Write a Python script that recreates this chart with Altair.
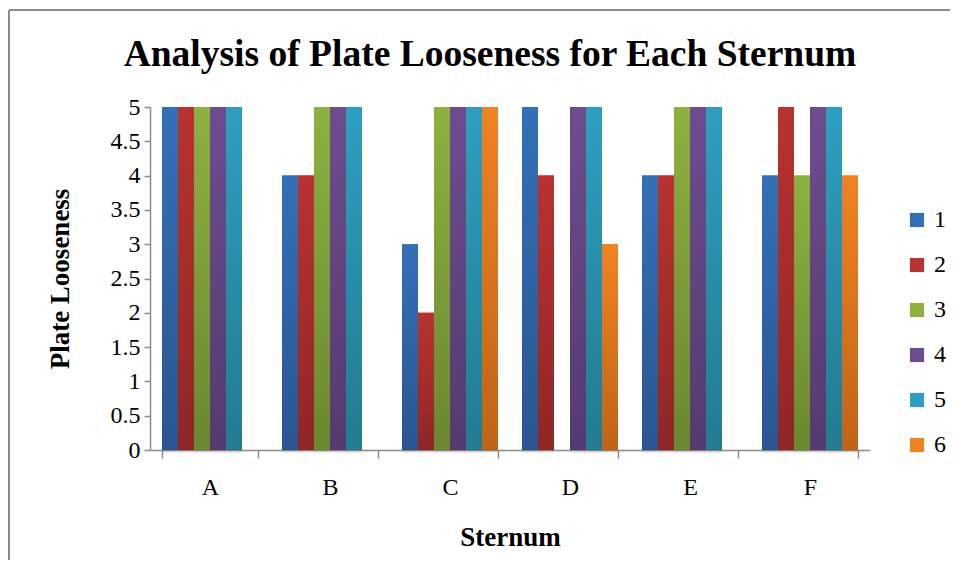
import altair as alt
import pandas as pd

categories = ["A", "B", "C", "D", "E", "F"]
series = ["1", "2", "3", "4", "5", "6"]
s1 = [5, 4, 3, 5, 4, 4]
s2 = [5, 4, 2, 4, 4, 5]
s3 = [5, 5, 5, None, 5, 4]
s4 = [5, 5, 5, 5, 5, 5]
s5 = [5, 5, 5, 5, 5, 5]
s6 = [None, None, 5, 3, None, 4]

top_colors = ["#3470b6", "#b83331", "#8db040", "#6e4d8f", "#2e9fc0", "#f08222"]
bottom_colors = ["#2a5590", "#8f2626", "#6b8730", "#553a6f", "#237b92", "#bf6418"]

rows = []
for s, vals in zip(series, [s1, s2, s3, s4, s5, s6]):
    for c, v in zip(categories, vals):
        if v is not None:
            rows.append({"Sternum": c, "Series": s, "Value": v})
df = pd.DataFrame(rows)

FONT = "Liberation Serif"

x_enc = alt.X("Sternum:N", sort=categories,
              scale=alt.Scale(paddingInner=0.2, paddingOuter=0.1),
              axis=alt.Axis(title="Sternum", labelAngle=0, tickBand="extent",
                            tickSize=8, labelPadding=17, titlePadding=25,
                            domainColor="#8c8c8c", tickColor="#8c8c8c",
                            domainWidth=1.5, tickWidth=1.5))
xo_enc = alt.XOffset("Series:N", scale=alt.Scale(domain=series))
y_enc = alt.Y("Value:Q", scale=alt.Scale(domain=[0, 5], nice=False),
              axis=alt.Axis(title="Plate Looseness", values=[0, 0.5, 1, 1.5, 2, 2.5, 3, 3.5, 4, 4.5, 5],
                            format="~g", grid=False, tickSize=6, labelPadding=4,
                            titlePadding=36, domainColor="#8c8c8c", tickColor="#8c8c8c",
                            domainWidth=1.5, tickWidth=1.5))

base = alt.Chart(df)

shadow = base.mark_bar(color="#000000", opacity=0.08, xOffset=3, yOffset=3).encode(
    x=x_enc, xOffset=xo_enc, y=y_enc)

legend_layer = base.mark_bar().encode(
    x=x_enc, xOffset=xo_enc, y=y_enc,
    color=alt.Color("Series:N", scale=alt.Scale(domain=series, range=top_colors),
                    legend=alt.Legend(title=None, orient="none", legendX=755, legendY=101,
                                      symbolType="square", symbolSize=200,
                                      symbolStrokeWidth=0, labelFontSize=24,
                                      labelFont=FONT, rowPadding=21, labelOffset=5,
                                      padding=0)))

layers = [shadow, legend_layer]
for s, tc, bc in zip(series, top_colors, bottom_colors):
    grad = alt.Gradient(gradient="linear", x1=0, y1=0, x2=0, y2=1,
                        stops=[alt.GradientStop(color=tc, offset=0),
                               alt.GradientStop(color=bc, offset=1)])
    layers.append(
        base.transform_filter(alt.datum.Series == s).mark_bar(fill=grad).encode(
            x=x_enc, xOffset=xo_enc, y=y_enc))

frame_df = pd.DataFrame({"a": [0]})
top_line = alt.Chart(frame_df).mark_rule(color="#8c8c8c", strokeWidth=2).encode(
    x=alt.value(-141), x2=alt.value(800), y=alt.value(-97))
left_line = alt.Chart(frame_df).mark_rule(color="#8c8c8c", strokeWidth=2).encode(
    x=alt.value(-141), y=alt.value(-97), y2=alt.value(470))

chart = alt.layer(top_line, left_line, *layers).properties(
    width=720, height=343,
    title=alt.Title("Analysis of Plate Looseness for Each Sternum", fontSize=37.5,
                    font=FONT, fontWeight="bold", color="#000000", anchor="middle",
                    dx=-20, offset=-64),
    autosize=alt.AutoSizeParams(type="none"),
    padding={"left": 142, "top": 99, "right": 80, "bottom": 110},
).configure_view(stroke=None).configure_axis(
    labelFont=FONT, titleFont=FONT, labelFontSize=24, titleFontSize=27,
    labelColor="#000000", titleColor="#000000", titleFontWeight="bold"
)

chart.save("out.html", embed_options={"renderer": "svg", "actions": False})
